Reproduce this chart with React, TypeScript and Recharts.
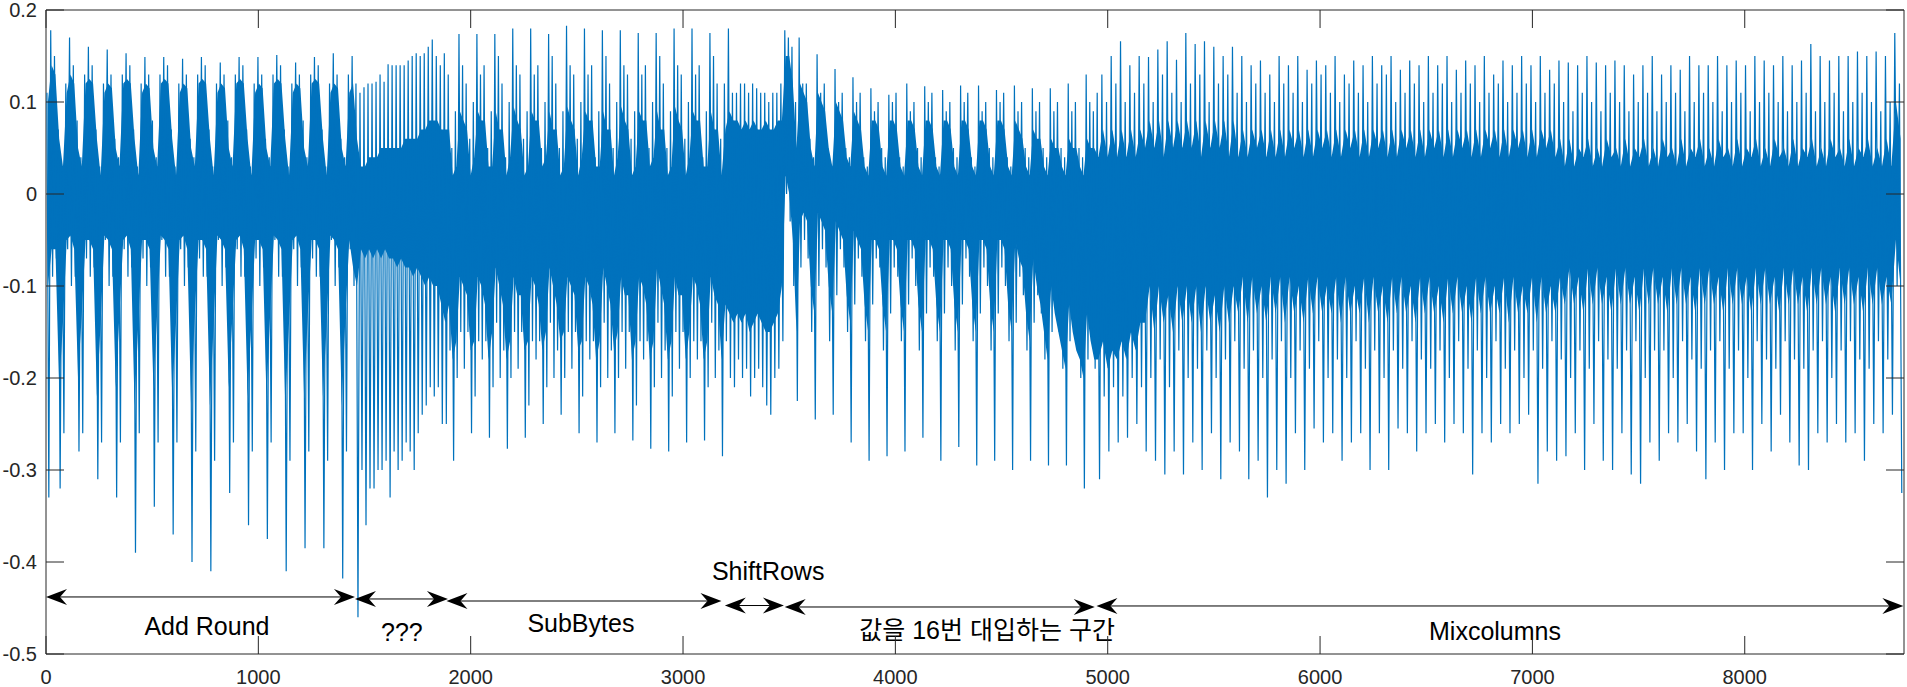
import {
  ComposedChart,
  Line,
  Area,
  XAxis,
  YAxis,
  ReferenceLine,
  ReferenceArea,
  ReferenceDot,
} from 'recharts';

const BLUE = '#0072BD';
const AXIS = '#262626';
const FONT = '"Liberation Sans", Arial, "Noto Sans CJK KR", sans-serif';
const XMAX = 8750;

const xTicks = [0, 1000, 2000, 3000, 4000, 5000, 6000, 7000, 8000];
const yTicks = [-0.5, -0.4, -0.3, -0.2, -0.1, 0, 0.1, 0.2];

// annotated phases (double arrows under the trace)
const phaseNames = ['Add Round', '???', 'SubBytes', 'ShiftRows', '값을 16번 대입하는 구간', 'Mixcolumns'];
const phaseFrom = [0, 1455, 1886, 3197, 3479, 4947];
const phaseTo = [1455, 1893, 3181, 3475, 4939, 8747];
const phaseLevel = [-0.438, -0.4402, -0.4424, -0.4473, -0.4489, -0.4478];
const phaseLabelX = [758, 1676, 2519, 3401, 4432, 6824];
const phaseLabelY = [-0.4793, -0.4859, -0.4766, -0.4196, -0.4837, -0.4848];

// trace, read per bin: spike max / spike min, and the solid body top / bottom
const addRoundHigh = [
  0.11, 0.178, 0.15, 0.07, 0.03,
  0.12, 0.17, 0.14, 0.08, 0.04,
  0.13, 0.16, 0.14, 0.07, 0.03,
  0.12, 0.157, 0.13, 0.06, 0.04,
  0.13, 0.153, 0.14, 0.07, 0.03,
  0.12, 0.149, 0.13, 0.08, 0.04,
  0.13, 0.149, 0.14, 0.07, 0.03,
  0.12, 0.147, 0.13, 0.06, 0.04,
  0.13, 0.149, 0.14, 0.07, 0.03,
  0.12, 0.143, 0.13, 0.08, 0.04,
  0.13, 0.149, 0.14, 0.07, 0.03,
  0.12, 0.149, 0.13, 0.06, 0.04,
  0.13, 0.151, 0.14, 0.07, 0.03,
  0.12, 0.143, 0.13, 0.08, 0.04,
  0.13, 0.149, 0.14, 0.07, 0.03,
  0.12, 0.153, 0.13, 0.06, 0.04,
  0.13, 0.15,
];
const addRoundLow = [
  -0.33, -0.09, -0.07, -0.32, -0.26,
  -0.06, -0.1, -0.09, -0.28, -0.26,
  -0.07, -0.09, -0.08, -0.31, -0.27,
  -0.05, -0.1, -0.09, -0.33, -0.27,
  -0.06, -0.09, -0.08, -0.39, -0.26,
  -0.07, -0.1, -0.08, -0.34, -0.27,
  -0.05, -0.09, -0.09, -0.37, -0.27,
  -0.06, -0.1, -0.08, -0.4, -0.28,
  -0.07, -0.09, -0.09, -0.41, -0.29,
  -0.05, -0.1, -0.08, -0.325, -0.27,
  -0.06, -0.09, -0.09, -0.36, -0.28,
  -0.07, -0.1, -0.08, -0.375, -0.27,
  -0.05, -0.09, -0.09, -0.41, -0.29,
  -0.06, -0.1, -0.08, -0.385, -0.28,
  -0.07, -0.09, -0.09, -0.385, -0.29,
  -0.05, -0.1, -0.08, -0.418, -0.28,
  -0.06, -0.1,
];
const addRoundBodyTop = [
  0.1, 0.14, 0.13, 0.06, 0.03,
  0.11, 0.13, 0.12, 0.05, 0.03,
  0.12, 0.125, 0.12, 0.06, 0.02,
  0.11, 0.12, 0.115, 0.05, 0.03,
  0.12, 0.125, 0.12, 0.06, 0.02,
  0.11, 0.12, 0.115, 0.05, 0.03,
  0.12, 0.125, 0.12, 0.06, 0.02,
  0.11, 0.12, 0.115, 0.05, 0.03,
  0.12, 0.125, 0.12, 0.06, 0.02,
  0.11, 0.12, 0.115, 0.05, 0.03,
  0.12, 0.125, 0.12, 0.06, 0.02,
  0.11, 0.12, 0.115, 0.05, 0.03,
  0.12, 0.125, 0.12, 0.06, 0.02,
  0.11, 0.12, 0.115, 0.05, 0.03,
  0.12, 0.125, 0.12, 0.06, 0.02,
  0.11, 0.12, 0.115, 0.05, 0.03,
  0.11, 0.12,
];
const addRoundBodyBottom = [
  -0.1, -0.06, -0.06, -0.21, -0.14,
  -0.05, -0.045, -0.06, -0.2, -0.13,
  -0.05, -0.05, -0.06, -0.22, -0.14,
  -0.045, -0.05, -0.06, -0.21, -0.13,
  -0.05, -0.045, -0.06, -0.23, -0.14,
  -0.05, -0.05, -0.06, -0.21, -0.13,
  -0.045, -0.05, -0.06, -0.22, -0.14,
  -0.05, -0.045, -0.06, -0.23, -0.13,
  -0.05, -0.05, -0.06, -0.23, -0.14,
  -0.045, -0.05, -0.06, -0.21, -0.13,
  -0.05, -0.045, -0.06, -0.22, -0.14,
  -0.05, -0.05, -0.06, -0.22, -0.13,
  -0.045, -0.05, -0.06, -0.23, -0.14,
  -0.05, -0.045, -0.06, -0.22, -0.13,
  -0.05, -0.05, -0.06, -0.22, -0.14,
  -0.045, -0.05, -0.06, -0.23, -0.13,
  -0.05, -0.08,
];

const unknownHigh = [
  0.12, 0.11, 0.116, 0.12, 0.12, 0.122, 0.13, 0.122, 0.141, 0.14, 0.14, 0.14,
  0.14, 0.145, 0.15, 0.153, 0.15, 0.153, 0.16, 0.168, 0.15, 0.14, 0.153,
];
const unknownLow = [
  -0.46, -0.3, -0.36, -0.32, -0.32, -0.3, -0.3, -0.29, -0.33, -0.28, -0.3, -0.29,
  -0.27, -0.28, -0.3, -0.26, -0.24, -0.23, -0.21, -0.22, -0.21, -0.25, -0.25,
];
const unknownBodyTop = [
  0.06, 0.03, 0.03, 0.04, 0.04, 0.04, 0.05, 0.05, 0.05, 0.05, 0.05, 0.05,
  0.06, 0.06, 0.06, 0.06, 0.07, 0.07, 0.08, 0.08, 0.08, 0.07, 0.07,
];
const unknownBodyBottom = [
  -0.1, -0.06, -0.07, -0.06, -0.07, -0.06, -0.07, -0.06, -0.07, -0.07, -0.08, -0.07,
  -0.08, -0.08, -0.09, -0.08, -0.09, -0.1, -0.09, -0.1, -0.1, -0.12, -0.14,
];

const subBytesHigh = [
  0.13, 0.05, 0.09, 0.174, 0.14,
  0.12, 0.06, 0.1, 0.174, 0.13,
  0.14, 0.05, 0.09, 0.174, 0.15,
  0.12, 0.04, 0.1, 0.18, 0.14,
  0.13, 0.06, 0.09, 0.18, 0.13,
  0.14, 0.05, 0.1, 0.174, 0.15,
  0.12, 0.05, 0.09, 0.183, 0.14,
  0.13, 0.06, 0.1, 0.18, 0.13,
  0.14, 0.04, 0.09, 0.178, 0.15,
  0.12, 0.05, 0.1, 0.178, 0.14,
  0.13, 0.06, 0.09, 0.175, 0.13,
  0.14, 0.05, 0.1, 0.175, 0.15,
  0.12, 0.05, 0.09, 0.18, 0.14,
  0.13, 0.06, 0.1, 0.18, 0.13,
  0.14, 0.04, 0.09, 0.175, 0.15,
  0.12, 0.06,
];
const subBytesLow = [
  -0.17, -0.29, -0.2, -0.15, -0.19,
  -0.15, -0.26, -0.22, -0.16, -0.18,
  -0.16, -0.265, -0.21, -0.14, -0.2,
  -0.17, -0.277, -0.2, -0.15, -0.19,
  -0.15, -0.265, -0.23, -0.16, -0.18,
  -0.16, -0.25, -0.21, -0.14, -0.2,
  -0.17, -0.24, -0.2, -0.15, -0.19,
  -0.15, -0.26, -0.22, -0.16, -0.18,
  -0.16, -0.27, -0.21, -0.14, -0.2,
  -0.17, -0.26, -0.2, -0.15, -0.19,
  -0.15, -0.268, -0.23, -0.16, -0.18,
  -0.16, -0.277, -0.21, -0.14, -0.2,
  -0.17, -0.28, -0.22, -0.15, -0.19,
  -0.15, -0.27, -0.2, -0.16, -0.18,
  -0.16, -0.268, -0.21, -0.14, -0.2,
  -0.17, -0.285,
];
const subBytesBodyTop = [
  0.07, 0.02, 0.03, 0.09, 0.08,
  0.07, 0.02, 0.04, 0.09, 0.08,
  0.08, 0.03, 0.03, 0.09, 0.07,
  0.07, 0.02, 0.04, 0.095, 0.08,
  0.07, 0.02, 0.03, 0.09, 0.08,
  0.08, 0.03, 0.04, 0.09, 0.07,
  0.07, 0.02, 0.03, 0.095, 0.08,
  0.07, 0.02, 0.04, 0.09, 0.08,
  0.08, 0.03, 0.03, 0.09, 0.07,
  0.07, 0.02, 0.04, 0.095, 0.08,
  0.07, 0.02, 0.03, 0.09, 0.08,
  0.08, 0.03, 0.04, 0.09, 0.07,
  0.07, 0.02, 0.03, 0.095, 0.08,
  0.07, 0.02, 0.04, 0.09, 0.08,
  0.08, 0.03, 0.03, 0.09, 0.07,
  0.07, 0.02,
];
const subBytesBodyBottom = [
  -0.12, -0.18, -0.16, -0.09, -0.1,
  -0.11, -0.17, -0.16, -0.09, -0.1,
  -0.12, -0.18, -0.15, -0.08, -0.1,
  -0.12, -0.18, -0.16, -0.09, -0.11,
  -0.11, -0.17, -0.16, -0.09, -0.1,
  -0.12, -0.17, -0.15, -0.08, -0.1,
  -0.12, -0.16, -0.15, -0.09, -0.1,
  -0.11, -0.17, -0.16, -0.09, -0.1,
  -0.12, -0.18, -0.16, -0.08, -0.1,
  -0.12, -0.17, -0.15, -0.09, -0.11,
  -0.11, -0.18, -0.16, -0.09, -0.1,
  -0.12, -0.18, -0.16, -0.08, -0.1,
  -0.12, -0.18, -0.16, -0.09, -0.11,
  -0.11, -0.18, -0.15, -0.09, -0.1,
  -0.12, -0.18, -0.16, -0.09, -0.11,
  -0.12, -0.18,
];

const shiftRowsHigh = [0.12, 0.18, 0.11, 0.11, 0.12, 0.12, 0.11, 0.12, 0.115, 0.11, 0.11, 0.1, 0.11, 0.11, 0.12];
const shiftRowsLow = [-0.16, -0.2, -0.21, -0.18, -0.2, -0.19, -0.22, -0.2, -0.19, -0.21, -0.23, -0.24, -0.2, -0.19, -0.16];
const shiftRowsBodyTop = [0.07, 0.09, 0.08, 0.08, 0.07, 0.08, 0.07, 0.08, 0.07, 0.07, 0.08, 0.07, 0.07, 0.08, 0.08];
const shiftRowsBodyBottom = [-0.12, -0.13, -0.14, -0.13, -0.14, -0.13, -0.15, -0.14, -0.13, -0.14, -0.15, -0.15, -0.14, -0.13, -0.1];

const assignHigh = [
  0.178, 0.17, 0.16, 0.1, 0.17,
  0.12, 0.12, 0.06, 0.04, 0.152,
  0.11, 0.12, 0.05, 0.03, 0.136,
  0.1, 0.11, 0.05, 0.04, 0.127,
  0.1, 0.11, 0.04, 0.03, 0.115,
  0.09, 0.1, 0.05, 0.04, 0.108,
  0.1, 0.11, 0.04, 0.03, 0.12,
  0.09, 0.1, 0.05, 0.04, 0.117,
  0.1, 0.11, 0.04, 0.03, 0.113,
  0.09, 0.1, 0.05, 0.04, 0.118,
  0.1, 0.11, 0.04, 0.03, 0.118,
  0.09, 0.1, 0.05, 0.04, 0.113,
  0.1, 0.11, 0.04, 0.03, 0.118,
  0.09, 0.1, 0.05, 0.04, 0.115,
  0.09, 0.1, 0.05, 0.04, 0.115,
  0.09, 0.1, 0.05, 0.04, 0.12,
  0.09, 0.1, 0.05, 0.04, 0.13,
  0.1, 0.09,
];
const assignLow = [
  0.0, -0.03, -0.1, -0.225, -0.08,
  -0.05, -0.07, -0.15, -0.245, -0.1,
  -0.06, -0.08, -0.16, -0.24, -0.11,
  -0.06, -0.08, -0.15, -0.27, -0.12,
  -0.07, -0.09, -0.16, -0.29, -0.12,
  -0.07, -0.08, -0.17, -0.285, -0.13,
  -0.08, -0.09, -0.16, -0.28, -0.12,
  -0.07, -0.1, -0.17, -0.265, -0.13,
  -0.08, -0.09, -0.16, -0.29, -0.13,
  -0.08, -0.1, -0.17, -0.275, -0.12,
  -0.07, -0.09, -0.16, -0.295, -0.13,
  -0.08, -0.1, -0.17, -0.29, -0.13,
  -0.08, -0.1, -0.16, -0.3, -0.14,
  -0.09, -0.11, -0.17, -0.29, -0.14,
  -0.11, -0.13, -0.18, -0.295, -0.15,
  -0.12, -0.15, -0.19, -0.295, -0.16,
  -0.14, -0.16, -0.2, -0.32, -0.18,
  -0.16, -0.19,
];
const assignBodyTop = [
  0.15, 0.15, 0.12, 0.05, 0.12,
  0.11, 0.1, 0.05, 0.03, 0.11,
  0.1, 0.09, 0.05, 0.03, 0.1,
  0.09, 0.08, 0.04, 0.03, 0.09,
  0.08, 0.07, 0.03, 0.02, 0.08,
  0.08, 0.07, 0.03, 0.02, 0.08,
  0.08, 0.07, 0.03, 0.02, 0.08,
  0.08, 0.07, 0.03, 0.02, 0.08,
  0.08, 0.07, 0.03, 0.02, 0.08,
  0.08, 0.07, 0.03, 0.02, 0.08,
  0.08, 0.07, 0.03, 0.02, 0.08,
  0.08, 0.07, 0.03, 0.02, 0.08,
  0.08, 0.07, 0.03, 0.02, 0.08,
  0.07, 0.06, 0.03, 0.02, 0.07,
  0.06, 0.06, 0.03, 0.02, 0.06,
  0.05, 0.05, 0.03, 0.02, 0.06,
  0.05, 0.05, 0.03, 0.02, 0.06,
  0.05, 0.05,
];
const assignBodyBottom = [
  0.02, 0.0, -0.05, -0.15, -0.03,
  -0.02, -0.03, -0.1, -0.13, -0.02,
  -0.03, -0.04, -0.1, -0.13, -0.03,
  -0.04, -0.05, -0.11, -0.14, -0.04,
  -0.05, -0.06, -0.12, -0.15, -0.05,
  -0.05, -0.06, -0.12, -0.15, -0.05,
  -0.05, -0.06, -0.12, -0.15, -0.05,
  -0.05, -0.06, -0.12, -0.15, -0.05,
  -0.05, -0.06, -0.12, -0.15, -0.05,
  -0.05, -0.06, -0.12, -0.15, -0.05,
  -0.05, -0.06, -0.12, -0.15, -0.05,
  -0.05, -0.06, -0.12, -0.15, -0.05,
  -0.05, -0.06, -0.12, -0.15, -0.05,
  -0.07, -0.08, -0.13, -0.16, -0.07,
  -0.1, -0.12, -0.15, -0.18, -0.1,
  -0.13, -0.15, -0.17, -0.19, -0.12,
  -0.15, -0.17, -0.18, -0.2, -0.13,
  -0.16, -0.18,
];

const mixHigh = [
  0.11, 0.13, 0.1, 0.15, 0.12, 0.166, 0.1, 0.14, 0.11, 0.15,
  0.12, 0.149, 0.1, 0.157, 0.13, 0.166, 0.11, 0.146, 0.1, 0.175,
  0.12, 0.163, 0.13, 0.166, 0.1, 0.16, 0.12, 0.15, 0.13, 0.16,
  0.11, 0.15, 0.1, 0.14, 0.12, 0.145, 0.11, 0.13, 0.1, 0.15,
  0.12, 0.14, 0.11, 0.15, 0.1, 0.135, 0.12, 0.145, 0.13, 0.14,
  0.11, 0.15, 0.1, 0.13, 0.12, 0.145, 0.11, 0.14, 0.1, 0.15,
  0.12, 0.14, 0.13, 0.15, 0.1, 0.135, 0.11, 0.145, 0.12, 0.14,
  0.1, 0.15, 0.11, 0.14, 0.12, 0.15, 0.1, 0.135, 0.11, 0.145,
  0.12, 0.14, 0.1, 0.15, 0.11, 0.13, 0.12, 0.145, 0.1, 0.14,
  0.11, 0.15, 0.12, 0.14, 0.1, 0.15, 0.11, 0.135, 0.12, 0.145,
  0.1, 0.143, 0.09, 0.14, 0.11, 0.15, 0.1, 0.143, 0.09, 0.14,
  0.11, 0.145, 0.1, 0.14, 0.09, 0.13, 0.1, 0.14, 0.11, 0.15,
  0.09, 0.13, 0.1, 0.14, 0.11, 0.135, 0.09, 0.15, 0.1, 0.14,
  0.11, 0.14, 0.1, 0.15, 0.09, 0.14, 0.1, 0.145, 0.11, 0.14,
  0.09, 0.15, 0.1, 0.145, 0.11, 0.14, 0.1, 0.15, 0.09, 0.14,
  0.1, 0.145, 0.11, 0.163, 0.09, 0.15, 0.1, 0.145, 0.11, 0.15,
  0.09, 0.15, 0.1, 0.155, 0.11, 0.15, 0.1, 0.155, 0.09, 0.15,
  0.1, 0.175, 0.12,
];
const mixLow = [
  -0.31, -0.22, -0.28, -0.21, -0.27, -0.22, -0.265, -0.2, -0.25, -0.21,
  -0.28, -0.2, -0.29, -0.18, -0.305, -0.21, -0.28, -0.17, -0.305, -0.2,
  -0.27, -0.19, -0.3, -0.17, -0.26, -0.2, -0.31, -0.18, -0.27, -0.16,
  -0.28, -0.19, -0.31, -0.17, -0.29, -0.2, -0.33, -0.18, -0.3, -0.16,
  -0.315, -0.2, -0.26, -0.17, -0.3, -0.19, -0.255, -0.16, -0.27, -0.2,
  -0.26, -0.18, -0.29, -0.2, -0.27, -0.16, -0.26, -0.19, -0.3, -0.17,
  -0.26, -0.2, -0.3, -0.17, -0.255, -0.19, -0.26, -0.16, -0.28, -0.18,
  -0.26, -0.19, -0.25, -0.17, -0.27, -0.2, -0.25, -0.16, -0.26, -0.19,
  -0.305, -0.17, -0.26, -0.2, -0.27, -0.16, -0.25, -0.19, -0.26, -0.17,
  -0.25, -0.2, -0.24, -0.17, -0.315, -0.19, -0.28, -0.16, -0.29, -0.18,
  -0.285, -0.2, -0.26, -0.17, -0.3, -0.19, -0.25, -0.16, -0.29, -0.18,
  -0.3, -0.19, -0.26, -0.17, -0.305, -0.16, -0.315, -0.2, -0.27, -0.17,
  -0.29, -0.17, -0.26, -0.2, -0.27, -0.16, -0.25, -0.18, -0.28, -0.19,
  -0.31, -0.17, -0.27, -0.16, -0.3, -0.19, -0.26, -0.17, -0.26, -0.2,
  -0.3, -0.16, -0.25, -0.18, -0.28, -0.19, -0.24, -0.16, -0.27, -0.18,
  -0.295, -0.19, -0.3, -0.17, -0.26, -0.16, -0.27, -0.2, -0.25, -0.17,
  -0.27, -0.16, -0.26, -0.18, -0.29, -0.19, -0.25, -0.16, -0.26, -0.18,
  -0.24, -0.1, -0.325,
];
const mixBodyTop = [
  0.04, 0.07, 0.04, 0.07, 0.04, 0.07, 0.04, 0.07, 0.04, 0.07,
  0.05, 0.08, 0.05, 0.08, 0.04, 0.08, 0.05, 0.08, 0.05, 0.08,
  0.05, 0.08, 0.04, 0.08, 0.05, 0.08, 0.05, 0.08, 0.04, 0.08,
  0.04, 0.07, 0.04, 0.07, 0.05, 0.07, 0.04, 0.07, 0.04, 0.07,
  0.04, 0.07, 0.05, 0.07, 0.04, 0.07, 0.04, 0.07, 0.05, 0.07,
  0.04, 0.07, 0.04, 0.07, 0.05, 0.07, 0.04, 0.07, 0.04, 0.07,
  0.05, 0.07, 0.04, 0.07, 0.04, 0.07, 0.05, 0.07, 0.04, 0.07,
  0.04, 0.07, 0.05, 0.07, 0.04, 0.07, 0.04, 0.07, 0.05, 0.07,
  0.04, 0.07, 0.04, 0.07, 0.05, 0.07, 0.04, 0.07, 0.04, 0.07,
  0.05, 0.07, 0.04, 0.07, 0.04, 0.07, 0.05, 0.07, 0.04, 0.06,
  0.03, 0.06, 0.03, 0.05, 0.04, 0.06, 0.03, 0.05, 0.03, 0.06,
  0.04, 0.05, 0.03, 0.06, 0.03, 0.05, 0.04, 0.06, 0.03, 0.05,
  0.03, 0.06, 0.04, 0.05, 0.03, 0.06, 0.03, 0.05, 0.04, 0.06,
  0.03, 0.05, 0.03, 0.06, 0.04, 0.05, 0.03, 0.06, 0.03, 0.05,
  0.04, 0.06, 0.03, 0.05, 0.03, 0.06, 0.04, 0.05, 0.03, 0.06,
  0.03, 0.05, 0.04, 0.06, 0.03, 0.05, 0.03, 0.06, 0.04, 0.05,
  0.03, 0.06, 0.03, 0.05, 0.04, 0.06, 0.03, 0.05, 0.03, 0.06,
  0.03, 0.1, 0.06,
];
const mixBodyBottom = [
  -0.18, -0.16, -0.19, -0.17, -0.18, -0.16, -0.18, -0.15, -0.17, -0.14,
  -0.14, -0.1, -0.15, -0.1, -0.14, -0.11, -0.15, -0.1, -0.14, -0.1,
  -0.14, -0.1, -0.15, -0.1, -0.14, -0.11, -0.15, -0.1, -0.14, -0.1,
  -0.13, -0.09, -0.14, -0.09, -0.13, -0.1, -0.14, -0.09, -0.13, -0.09,
  -0.14, -0.09, -0.13, -0.1, -0.14, -0.09, -0.13, -0.09, -0.13, -0.1,
  -0.13, -0.09, -0.14, -0.09, -0.13, -0.1, -0.13, -0.09, -0.14, -0.09,
  -0.13, -0.1, -0.14, -0.09, -0.13, -0.09, -0.13, -0.1, -0.14, -0.09,
  -0.13, -0.09, -0.13, -0.1, -0.14, -0.09, -0.13, -0.09, -0.13, -0.1,
  -0.14, -0.09, -0.13, -0.09, -0.13, -0.1, -0.13, -0.09, -0.14, -0.09,
  -0.13, -0.1, -0.13, -0.09, -0.14, -0.09, -0.13, -0.1, -0.13, -0.09,
  -0.12, -0.08, -0.12, -0.09, -0.13, -0.08, -0.12, -0.08, -0.12, -0.09,
  -0.13, -0.08, -0.12, -0.08, -0.12, -0.09, -0.13, -0.08, -0.12, -0.08,
  -0.12, -0.09, -0.13, -0.08, -0.12, -0.08, -0.12, -0.09, -0.13, -0.08,
  -0.12, -0.08, -0.12, -0.09, -0.13, -0.08, -0.12, -0.08, -0.12, -0.09,
  -0.13, -0.08, -0.12, -0.08, -0.12, -0.09, -0.13, -0.08, -0.12, -0.08,
  -0.12, -0.09, -0.13, -0.08, -0.12, -0.08, -0.12, -0.09, -0.13, -0.08,
  -0.12, -0.08, -0.12, -0.09, -0.13, -0.08, -0.12, -0.08, -0.12, -0.09,
  -0.12, -0.05, -0.1,
];

const traceFrom = [0, 1455, 1890, 3190, 3475, 4945];
const traceTo = [1455, 1890, 3190, 3475, 4945, 8745];
const traceHigh = [addRoundHigh, unknownHigh, subBytesHigh, shiftRowsHigh, assignHigh, mixHigh];
const traceLow = [addRoundLow, unknownLow, subBytesLow, shiftRowsLow, assignLow, mixLow];
const bodyTop = [addRoundBodyTop, unknownBodyTop, subBytesBodyTop, shiftRowsBodyTop, assignBodyTop, mixBodyTop];
const bodyBottom = [addRoundBodyBottom, unknownBodyBottom, subBytesBodyBottom, shiftRowsBodyBottom, assignBodyBottom, mixBodyBottom];

// spikes as a max/min line, body as a filled band, one entry per bin
const traceData: { x: number; v: number }[] = [];
const bodyData: { x: number; band: number[] }[] = [];
traceHigh.forEach((high, s) => {
  const w = (traceTo[s] - traceFrom[s]) / high.length;
  high.forEach((h, i) => {
    traceData.push({ x: traceFrom[s] + w * (i + 0.25), v: h });
    traceData.push({ x: traceFrom[s] + w * (i + 0.75), v: traceLow[s][i] });
    bodyData.push({ x: traceFrom[s] + w * (i + 0.5), band: [bodyBottom[s][i], bodyTop[s][i]] });
  });
});

// plot box, in page pixels
const PLOT_LEFT = 46;
const PLOT_TOP = 10;
const PLOT_RIGHT = 1904;
const PLOT_BOTTOM = 654;
const TICK_LEN = 18;

const XTick = (props: any) => {
  const { x, payload } = props;
  return (
    <g>
      <line x1={x} x2={x} y1={PLOT_BOTTOM} y2={PLOT_BOTTOM - TICK_LEN} stroke={AXIS} />
      <line x1={x} x2={x} y1={PLOT_TOP} y2={PLOT_TOP + TICK_LEN} stroke={AXIS} />
      <text x={x} y={684} textAnchor='middle' fontSize={20} fontFamily={FONT} fill={AXIS}>
        {payload.value}
      </text>
    </g>
  );
};

const YTick = (props: any) => {
  const { y, payload } = props;
  return (
    <g>
      <line x1={PLOT_LEFT} x2={PLOT_LEFT + TICK_LEN} y1={y} y2={y} stroke={AXIS} />
      <line x1={PLOT_RIGHT - TICK_LEN} x2={PLOT_RIGHT} y1={y} y2={y} stroke={AXIS} />
      <text x={37} y={y} dy='0.36em' textAnchor='end' fontSize={20} fontFamily={FONT} fill={AXIS}>
        {String(Math.round(payload.value * 10) / 10)}
      </text>
    </g>
  );
};

const arrowShape = (p: any) => {
  const { x1, y1, x2, y2 } = p;
  const L = 21;
  const H = 8;
  const N = 14;
  return (
    <g>
      <line x1={x1 + N} y1={y1} x2={x2 - N} y2={y2} stroke='#000' strokeWidth={1} />
      <polygon points={`${x1},${y1} ${x1 + L},${y1 - H} ${x1 + N},${y1} ${x1 + L},${y1 + H}`} fill='#000' />
      <polygon points={`${x2},${y2} ${x2 - L},${y2 - H} ${x2 - N},${y2} ${x2 - L},${y2 + H}`} fill='#000' />
    </g>
  );
};

export default function App() {
  return (
    <div style={{ position: 'absolute', left: 0, top: 0 }}>
      <ComposedChart width={1907} height={687} margin={{ top: PLOT_TOP, right: 3, bottom: 3, left: 0 }}>
        <XAxis
          type='number'
          dataKey='x'
          domain={[0, XMAX]}
          ticks={xTicks}
          interval={0}
          height={30}
          tickLine={false}
          axisLine={false}
          allowDataOverflow
          tick={(p: any) => <XTick {...p} />}
        />
        <YAxis
          type='number'
          domain={[-0.5, 0.2]}
          ticks={yTicks}
          interval={0}
          width={PLOT_LEFT}
          tickLine={false}
          axisLine={false}
          allowDataOverflow
          tick={(p: any) => <YTick {...p} />}
        />
        <Area
          data={bodyData}
          dataKey='band'
          type='linear'
          stroke='none'
          fill={BLUE}
          fillOpacity={1}
          isAnimationActive={false}
        />
        <Line
          data={traceData}
          dataKey='v'
          type='linear'
          stroke={BLUE}
          strokeWidth={1.2}
          dot={false}
          isAnimationActive={false}
        />
        <ReferenceArea x1={0} x2={XMAX} y1={-0.5} y2={0.2} fill='none' stroke={AXIS} strokeWidth={1} />
        {phaseNames.map((name, i) => (
          <ReferenceLine
            key={'a' + i}
            segment={[
              { x: phaseFrom[i], y: phaseLevel[i] },
              { x: phaseTo[i], y: phaseLevel[i] },
            ]}
            shape={arrowShape}
          />
        ))}
        {phaseNames.map((name, i) => (
          <ReferenceDot
            key={'l' + i}
            x={phaseLabelX[i]}
            y={phaseLabelY[i]}
            r={0}
            shape={(p: any) => (
              <text x={p.cx} y={p.cy} textAnchor='middle' fontSize={25} fontFamily={FONT} fill='#000'>
                {name}
              </text>
            )}
          />
        ))}
      </ComposedChart>
    </div>
  );
}
